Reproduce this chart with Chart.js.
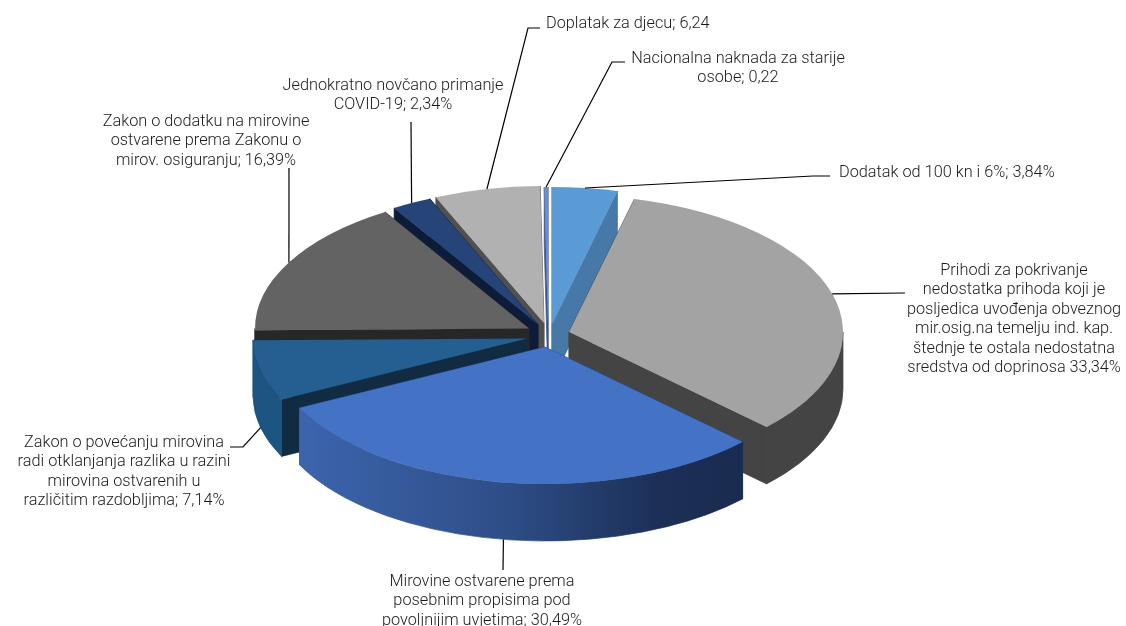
<!DOCTYPE html>
<html>
<head>
<meta charset="utf-8">
<title>Prihodi</title>
<style>
  html, body { margin: 0; padding: 0; background: #fff; }
  canvas { display: block; }
</style>
<script src="https://cdn.jsdelivr.net/npm/chart.js@4"></script>
</head>
<body>
<canvas id="pita" width="1126" height="626"></canvas>
<script>
const kategorije = [
  'Dodatak od 100 kn i 6%',
  'Prihodi za pokrivanje nedostatka prihoda',
  'Mirovine ostvarene prema posebnim propisima',
  'Zakon o povećanju mirovina',
  'Zakon o dodatku na mirovine',
  'Jednokratno novčano primanje COVID-19',
  'Doplatak za djecu',
  'Nacionalna naknada za starije osobe'
];
const vrijednosti = [3.84, 33.34, 30.49, 7.14, 16.39, 2.34, 6.24, 0.22];

const natpisi = [
  ['Dodatak od 100 kn i 6%; 3,84%'],
  ['Prihodi za pokrivanje', 'nedostatka prihoda koji je', 'posljedica uvođenja obveznog', 'mir.osig.na temelju ind. kap.', 'štednje te ostala nedostatna', 'sredstva od doprinosa 33,34%'],
  ['Mirovine ostvarene prema', 'posebnim propisima pod', 'povoljnijim uvjetima; 30,49%'],
  ['Zakon o povećanju mirovina', 'radi otklanjanja razlika u razini', 'mirovina ostvarenih u', 'različitim razdobljima; 7,14%'],
  ['Zakon o dodatku na mirovine', 'ostvarene prema Zakonu o', 'mirov. osiguranju; 16,39%'],
  ['Jednokratno novčano primanje', 'COVID-19; 2,34%'],
  ['Doplatak za djecu; 6,24'],
  ['Nacionalna naknada za starije', 'osobe; 0,22']
];

const boje = ['#5B9BD5', '#A3A3A3', '#4472C4', '#255E91', '#636363', '#264478', '#B1B1B1', '#698ED0'];
const bojeZida = ['#4679A8', '#444444', '#2A4A85', '#1D5582', '#272727', '#0D1C38', '#505050', '#3A5590'];
const bojeReza = ['#4679A8', '#444444', '#2A4A85', '#112C42', '#272727', '#0D1C38', '#505050', '#3A5590'];

// koliko je kriska izvucena iz sredine, dx i dy na slici
const izvlacenje = [[5, -10], [22, -2], [-2, 13], [-20, 4.5], [-18, -5.5], [-9, -9.5], [-3, -11], [1, -10]];
const redoslijed = [0, 7, 6, 5, 4, 1, 3, 2];
const spljosteno = 0.5;
const dubina = 57;

// tekst: x, y prvog retka, poravnanje; linija: lomovi od kriske do teksta
const polozaji = [
  { x: 839, y: 172.5, align: 'left', linija: [[813, 176], [830, 176]], dolje: false },
  { x: 1014, y: 271, align: 'center', linija: [[905, 293]], dolje: false },
  { x: 482, y: 582, align: 'center', linija: [[503, 570]], dolje: true },
  { x: 124, y: 443, align: 'center', linija: [[243, 447], [230, 447]], dolje: true },
  { x: 206, y: 122, align: 'center', linija: [[289, 168]], dolje: false },
  { x: 393, y: 86, align: 'center', linija: [[411, 122]], dolje: false },
  { x: 546, y: 24, align: 'left', linija: [[528, 28], [540, 28]], dolje: false },
  { x: 738, y: 59, align: 'center', linija: [[612, 62], [625, 62]], dolje: false }
];

function pomak(arc, i) {
  return { x: arc.x + izvlacenje[i][0], y: arc.y + izvlacenje[i][1] };
}

function rub(c, r, kut, dy) {
  return { x: c.x + Math.cos(kut) * r, y: c.y + Math.sin(kut) * r * spljosteno + dy };
}

function rez(ctx, c, r, kut, boja) {
  const a = rub(c, r, kut, 0);
  ctx.fillStyle = boja;
  ctx.strokeStyle = boja;
  ctx.lineWidth = 0.7;
  ctx.beginPath();
  ctx.moveTo(c.x, c.y);
  ctx.lineTo(a.x, a.y);
  ctx.lineTo(a.x, a.y + dubina);
  ctx.lineTo(c.x, c.y + dubina);
  ctx.closePath();
  ctx.fill();
  ctx.stroke();
}

const pita3d = {
  id: 'pita3d',
  beforeDatasetsDraw(chart) {
    const ctx = chart.ctx;
    const lukovi = chart.getDatasetMeta(0).data;

    redoslijed.forEach(i => {
      const arc = lukovi[i];
      const r = arc.outerRadius;
      const c = pomak(arc, i);

      rez(ctx, c, r, arc.startAngle, bojeReza[i]);
      rez(ctx, c, r, arc.endAngle, bojeReza[i]);

      // vanjski zid, samo prednja strana
      const a = Math.max(arc.startAngle, 0);
      const b = Math.min(arc.endAngle, Math.PI);
      if (b > a) {
        let boja = bojeZida[i];
        if (i === 2) {
          boja = ctx.createLinearGradient(c.x - 241, 0, c.x + 202, 0);
          boja.addColorStop(0, '#3C64AC');
          boja.addColorStop(0.45, '#2E4E88');
          boja.addColorStop(0.8, '#1C2F57');
          boja.addColorStop(1, '#1A2B4F');
        }
        ctx.fillStyle = boja;
        ctx.strokeStyle = boja;
        ctx.beginPath();
        ctx.ellipse(c.x, c.y, r, r * spljosteno, 0, a, b);
        ctx.ellipse(c.x, c.y + dubina, r, r * spljosteno, 0, b, a, true);
        ctx.closePath();
        ctx.fill();
        ctx.stroke();
      }

      // gornja ploha crta sam Chart.js element
      ctx.save();
      ctx.translate(c.x, c.y);
      ctx.scale(1, spljosteno);
      ctx.translate(-arc.x, -arc.y);
      arc.draw(ctx);
      ctx.restore();
    });

    // linije i natpisi
    ctx.strokeStyle = '#000';
    ctx.lineWidth = 1.2;
    ctx.font = '300 16.3px Roboto';
    ctx.fillStyle = '#1a1a1a';
    ctx.textBaseline = 'middle';
    polozaji.forEach((p, i) => {
      const arc = lukovi[i];
      const c = pomak(arc, i);
      const sidro = rub(c, arc.outerRadius, (arc.startAngle + arc.endAngle) / 2, p.dolje ? dubina : 0);
      ctx.beginPath();
      ctx.moveTo(sidro.x, sidro.y);
      p.linija.forEach(t => ctx.lineTo(t[0], t[1]));
      ctx.stroke();

      ctx.textAlign = p.align;
      natpisi[i].forEach((red, n) => ctx.fillText(red, p.x, p.y + n * 19.4));
    });
    return false;
  }
};

new Chart(document.getElementById('pita'), {
  type: 'pie',
  data: {
    labels: kategorije,
    datasets: [{
      data: vrijednosti,
      backgroundColor: boje,
      borderWidth: 0
    }]
  },
  options: {
    responsive: false,
    animation: false,
    layout: { padding: { left: 273, right: 305, top: 60, bottom: 18 } },
    plugins: {
      legend: { display: false },
      tooltip: { enabled: false }
    }
  },
  plugins: [pita3d]
});
</script>
</body>
</html>
